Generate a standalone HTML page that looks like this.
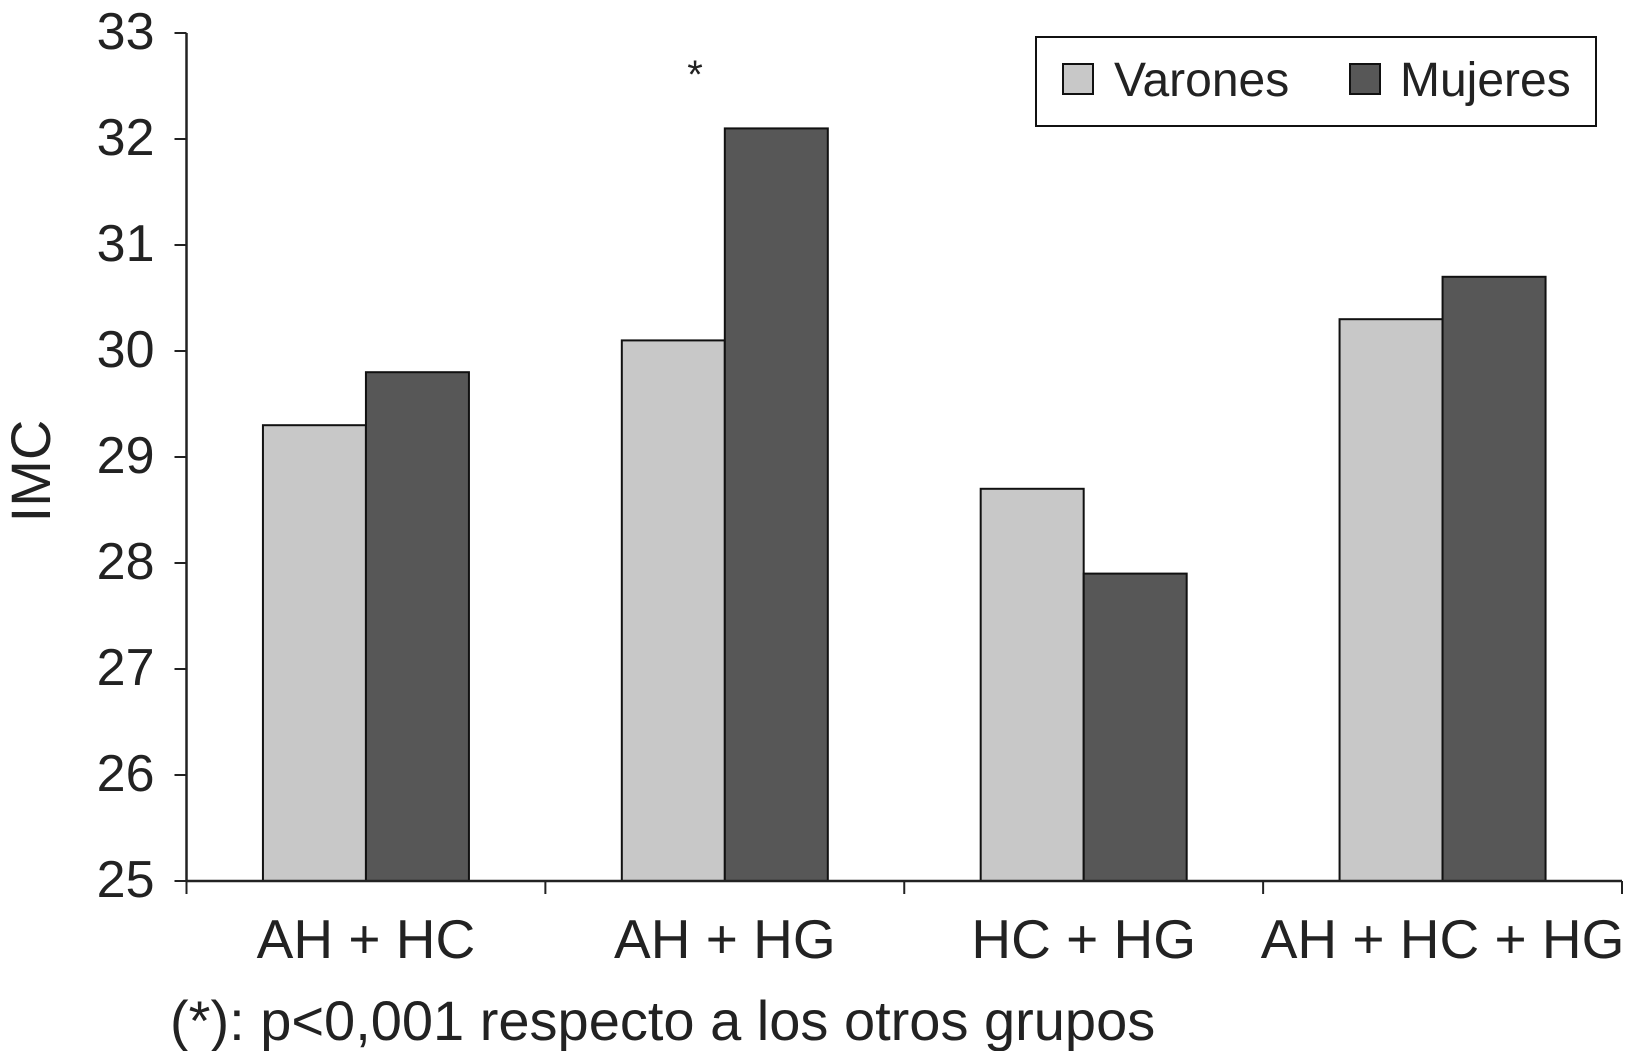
<!DOCTYPE html>
<html><head><meta charset="utf-8"><style>
body{margin:0;background:#fff;}
svg{display:block;font-family:"Liberation Sans",Arial,sans-serif;}
</style></head><body>
<svg id="chart" width="1625" height="1051" viewBox="0 0 1625 1051"></svg>
<script>
const categories=["AH + HC","AH + HG","HC + HG","AH + HC + HG"];
const varones=[29.3,30.1,28.7,30.3];
const mujeres=[29.8,32.1,27.9,30.7];
const yTicks=[25,26,27,28,29,30,31,32,33];
const NS="http://www.w3.org/2000/svg";
const svg=document.getElementById('chart');
const X0=186.5,X1=1622,Y0=881,Y1=33,yMin=25,yMax=33;
function y(v){return Y0-(v-yMin)/(yMax-yMin)*(Y0-Y1);}
const gw=(X1-X0)/categories.length;
function mk(t,a,txt){const e=document.createElementNS(NS,t);for(const k in a)e.setAttribute(k,a[k]);if(txt!=null)e.textContent=txt;svg.appendChild(e);return e;}
const bw=103;
categories.forEach((c,i)=>{
 const cx=X0+gw*(i+0.5);
 let r=mk('rect',{x:cx-bw,y:y(varones[i]),width:bw,height:Y0-y(varones[i]),fill:'#c8c8c8',stroke:'#111','stroke-width':2});
 
 
 r=mk('rect',{x:cx,y:y(mujeres[i]),width:bw,height:Y0-y(mujeres[i]),fill:'#575757',stroke:'#111','stroke-width':2});
 
 
 const t=mk('text',{x:cx,y:958,'font-size':55,'text-anchor':'middle',fill:'#222'},c);
 
 
});
for(let i=0;i<=categories.length;i++){mk('line',{x1:X0+gw*i,x2:X0+gw*i,y1:Y0,y2:Y0+13,stroke:'#222','stroke-width':2});}
yTicks.forEach(v=>{
 mk('line',{x1:X0-12,x2:X0,y1:y(v),y2:y(v),stroke:'#222','stroke-width':2});
 const t=mk('text',{x:X0-32,y:y(v)+16,'font-size':52,'text-anchor':'end',fill:'#222'},String(v));
 
 
});
mk('line',{x1:X0,x2:X0,y1:Y1,y2:Y0,stroke:'#222','stroke-width':2.5});
mk('line',{x1:X0,x2:X1,y1:Y0,y2:Y0,stroke:'#222','stroke-width':2.5});
</script>
<script>
(function(){
const svg=document.getElementById('chart');
svg.insertAdjacentHTML('beforeend',`
<text transform="translate(50,471) rotate(-90)" font-size="56" text-anchor="middle" fill="#222">IMC</text>
<text x="695" y="88" font-size="40" text-anchor="middle" fill="#222">*</text>
<g>
<rect x="1036" y="37" width="560" height="89" fill="#fff" stroke="#111" stroke-width="2"/>
<rect x="1063" y="64" width="30" height="30" fill="#c8c8c8" stroke="#111" stroke-width="2"/>
<text x="1114" y="96" font-size="48" fill="#222">Varones</text>
<rect x="1350" y="64" width="30" height="30" fill="#575757" stroke="#111" stroke-width="2"/>
<text x="1400" y="96" font-size="48" fill="#222">Mujeres</text>
</g>
<text x="170" y="1040" font-size="56" fill="#222">(*): p&lt;0,001 respecto a los otros grupos</text>`);
})();
</script>
</body></html>
